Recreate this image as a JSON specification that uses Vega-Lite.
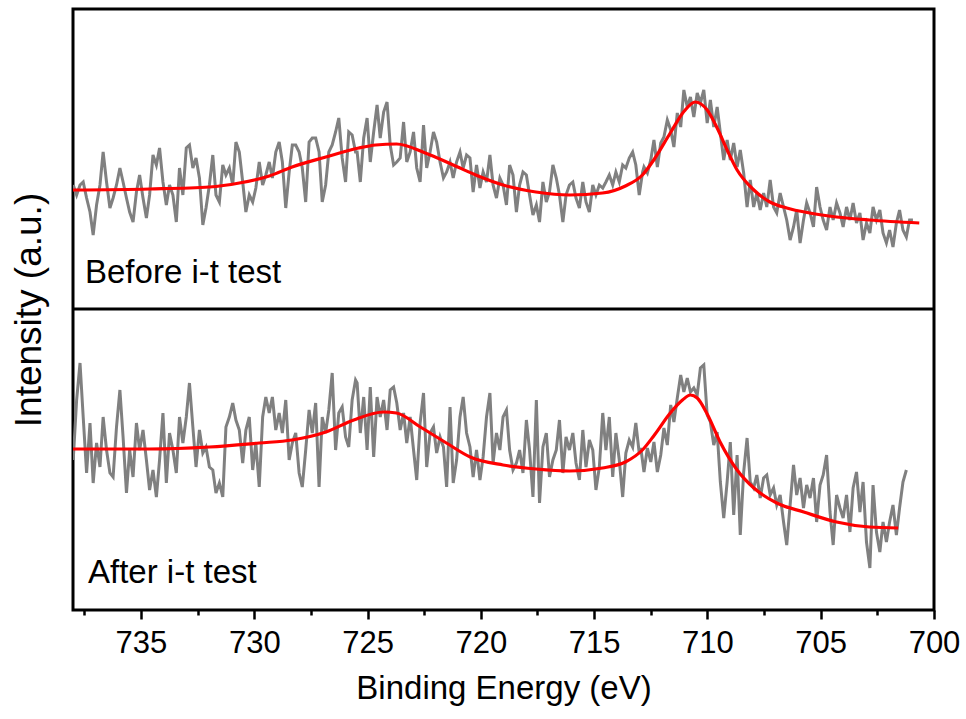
{
  "$schema": "https://vega.github.io/schema/vega-lite/v6.json",
  "width": 861,
  "height": 601,
  "autosize": {"type": "none"},
  "padding": {"left": 73, "top": 9, "right": 32, "bottom": 109},
  "background": "white",
  "config": {
    "view": {"stroke": "black", "strokeWidth": 3},
    "font": "Liberation Sans",
    "axis": {"grid": false, "domain": false, "titleFontWeight": "normal", "titleColor": "black", "labelColor": "black", "tickColor": "black"}
  },
  "datasets": {
    "rawBefore": [
      {"e":737.99,"v":425},{"e":737.84,"v":415},{"e":737.69,"v":425},{"e":737.55,"v":428},{"e":737.40,"v":412},{"e":737.25,"v":398},{"e":737.11,"v":375},{"e":736.96,"v":405},{"e":736.81,"v":425},{"e":736.67,"v":458},{"e":736.52,"v":428},{"e":736.37,"v":402},{"e":736.23,"v":412},{"e":736.08,"v":425},{"e":735.93,"v":442},{"e":735.79,"v":428},{"e":735.64,"v":412},{"e":735.50,"v":398},{"e":735.35,"v":388},{"e":735.20,"v":418},{"e":735.06,"v":435},{"e":734.91,"v":412},{"e":734.76,"v":392},{"e":734.62,"v":415},{"e":734.47,"v":455},{"e":734.32,"v":445},{"e":734.18,"v":462},{"e":734.03,"v":428},{"e":733.88,"v":405},{"e":733.74,"v":425},{"e":733.59,"v":415},{"e":733.44,"v":388},{"e":733.30,"v":442},{"e":733.15,"v":415},{"e":733.00,"v":462},{"e":732.86,"v":465},{"e":732.71,"v":442},{"e":732.57,"v":452},{"e":732.42,"v":432},{"e":732.27,"v":385},{"e":732.13,"v":402},{"e":731.98,"v":425},{"e":731.83,"v":455},{"e":731.69,"v":415},{"e":731.54,"v":408},{"e":731.39,"v":445},{"e":731.25,"v":435},{"e":731.10,"v":442},{"e":730.95,"v":425},{"e":730.81,"v":468},{"e":730.66,"v":458},{"e":730.51,"v":428},{"e":730.37,"v":398},{"e":730.22,"v":415},{"e":730.07,"v":408},{"e":729.93,"v":422},{"e":729.78,"v":448},{"e":729.63,"v":425},{"e":729.49,"v":435},{"e":729.34,"v":448},{"e":729.20,"v":432},{"e":729.05,"v":458},{"e":728.90,"v":468},{"e":728.76,"v":448},{"e":728.61,"v":402},{"e":728.46,"v":438},{"e":728.32,"v":465},{"e":728.17,"v":465},{"e":728.02,"v":458},{"e":727.88,"v":442},{"e":727.73,"v":408},{"e":727.58,"v":468},{"e":727.44,"v":472},{"e":727.29,"v":472},{"e":727.14,"v":458},{"e":727.00,"v":408},{"e":726.85,"v":425},{"e":726.71,"v":458},{"e":726.56,"v":465},{"e":726.41,"v":478},{"e":726.27,"v":492},{"e":726.12,"v":452},{"e":725.97,"v":428},{"e":725.83,"v":478},{"e":725.68,"v":475},{"e":725.53,"v":458},
      {"e":725.46,"v":458},{"e":725.32,"v":428},{"e":725.17,"v":472},{"e":725.02,"v":492},{"e":724.88,"v":448},{"e":724.73,"v":478},{"e":724.58,"v":505},{"e":724.44,"v":472},{"e":724.29,"v":498},{"e":724.14,"v":508},{"e":724.00,"v":465},{"e":723.85,"v":445},{"e":723.71,"v":448},{"e":723.56,"v":452},{"e":723.41,"v":488},{"e":723.27,"v":448},{"e":723.12,"v":458},{"e":722.97,"v":478},{"e":722.83,"v":442},{"e":722.68,"v":428},{"e":722.53,"v":485},{"e":722.39,"v":442},{"e":722.24,"v":458},{"e":722.09,"v":478},{"e":721.95,"v":468},{"e":721.80,"v":448},{"e":721.65,"v":432},{"e":721.51,"v":438},{"e":721.36,"v":448},{"e":721.22,"v":432},{"e":721.07,"v":448},{"e":720.92,"v":458},{"e":720.78,"v":442},{"e":720.63,"v":455},{"e":720.48,"v":452},{"e":720.34,"v":418},{"e":720.19,"v":445},{"e":720.04,"v":422},{"e":719.90,"v":438},{"e":719.75,"v":428},{"e":719.60,"v":455},{"e":719.46,"v":425},{"e":719.31,"v":412},{"e":719.16,"v":432},{"e":719.02,"v":425},{"e":718.87,"v":405},{"e":718.73,"v":445},{"e":718.58,"v":435},{"e":718.43,"v":398},{"e":718.29,"v":425},{"e":718.14,"v":438},{"e":717.99,"v":435},{"e":717.85,"v":415},{"e":717.70,"v":395},{"e":717.55,"v":405},{"e":717.41,"v":388},{"e":717.26,"v":428},{"e":717.11,"v":408},{"e":716.97,"v":418},{"e":716.82,"v":445},{"e":716.67,"v":432},{"e":716.53,"v":415},{"e":716.38,"v":388},{"e":716.24,"v":415},{"e":716.09,"v":425},{"e":715.94,"v":428},{"e":715.80,"v":412},{"e":715.65,"v":402},{"e":715.50,"v":428},{"e":715.36,"v":408},{"e":715.21,"v":398},{"e":715.06,"v":425},{"e":714.92,"v":415},{"e":714.77,"v":425},{"e":714.62,"v":422},{"e":714.48,"v":428},{"e":714.33,"v":435},{"e":714.18,"v":425},{"e":714.04,"v":438},{"e":713.89,"v":428},{"e":713.74,"v":445},{"e":713.60,"v":442},{"e":713.45,"v":452},{"e":713.30,"v":458},{"e":713.16,"v":445},{"e":713.01,"v":415},{"e":712.86,"v":438},
      {"e":712.80,"v":443},{"e":712.65,"v":437},{"e":712.50,"v":450},{"e":712.36,"v":470},{"e":712.21,"v":443},{"e":712.06,"v":467},{"e":711.92,"v":473},{"e":711.77,"v":490},{"e":711.62,"v":480},{"e":711.48,"v":463},{"e":711.33,"v":497},{"e":711.18,"v":483},{"e":711.04,"v":520},{"e":710.89,"v":503},{"e":710.75,"v":513},{"e":710.60,"v":493},{"e":710.45,"v":517},{"e":710.31,"v":507},{"e":710.16,"v":520},{"e":710.01,"v":487},{"e":709.87,"v":510},{"e":709.72,"v":483},{"e":709.57,"v":503},{"e":709.43,"v":477},{"e":709.28,"v":450},{"e":709.13,"v":470},{"e":708.99,"v":450},{"e":708.84,"v":467},{"e":708.69,"v":443},{"e":708.55,"v":460},{"e":708.40,"v":437},{"e":708.25,"v":403},{"e":708.11,"v":430},{"e":707.96,"v":403},{"e":707.82,"v":417},{"e":707.67,"v":400},{"e":707.52,"v":417},{"e":707.38,"v":403},{"e":707.23,"v":430},{"e":707.08,"v":403},{"e":706.94,"v":397},{"e":706.79,"v":417},{"e":706.64,"v":403},{"e":706.50,"v":390},{"e":706.35,"v":370},{"e":706.20,"v":383},{"e":706.06,"v":400},{"e":705.91,"v":367},{"e":705.76,"v":390},{"e":705.62,"v":407},{"e":705.47,"v":397},{"e":705.32,"v":383},{"e":705.18,"v":423},{"e":705.03,"v":403},{"e":704.89,"v":390},{"e":704.74,"v":380},{"e":704.59,"v":403},{"e":704.45,"v":390},{"e":704.30,"v":407},{"e":704.15,"v":397},{"e":704.01,"v":383},{"e":703.86,"v":403},{"e":703.71,"v":390},{"e":703.57,"v":407},{"e":703.42,"v":387},{"e":703.27,"v":397},{"e":703.13,"v":370},{"e":702.98,"v":387},{"e":702.83,"v":377},{"e":702.69,"v":403},{"e":702.54,"v":390},{"e":702.39,"v":400},{"e":702.25,"v":377},{"e":702.10,"v":367},{"e":701.96,"v":380},{"e":701.81,"v":363},{"e":701.66,"v":387},{"e":701.52,"v":400},{"e":701.37,"v":380},{"e":701.22,"v":373},{"e":701.08,"v":390},{"e":700.93,"v":390}
    ],
    "rawAfter": [
      {"e":737.99,"v":150},{"e":737.84,"v":210},{"e":737.69,"v":247},{"e":737.55,"v":193},{"e":737.40,"v":137},{"e":737.25,"v":187},{"e":737.11,"v":127},{"e":736.96,"v":167},{"e":736.81,"v":143},{"e":736.67,"v":193},{"e":736.52,"v":160},{"e":736.37,"v":137},{"e":736.23,"v":133},{"e":736.08,"v":183},{"e":735.93,"v":220},{"e":735.79,"v":173},{"e":735.64,"v":117},{"e":735.50,"v":160},{"e":735.35,"v":133},{"e":735.20,"v":187},{"e":735.06,"v":160},{"e":734.91,"v":180},{"e":734.76,"v":150},{"e":734.62,"v":120},{"e":734.47,"v":140},{"e":734.32,"v":113},{"e":734.18,"v":150},{"e":734.03,"v":197},{"e":733.88,"v":127},{"e":733.74,"v":177},{"e":733.59,"v":160},{"e":733.44,"v":137},{"e":733.30,"v":193},{"e":733.15,"v":167},{"e":733.00,"v":193},{"e":732.86,"v":227},{"e":732.71,"v":183},{"e":732.57,"v":143},{"e":732.42,"v":180},{"e":732.27,"v":157},{"e":732.13,"v":163},{"e":731.98,"v":143},{"e":731.83,"v":140},{"e":731.69,"v":117},{"e":731.54,"v":127},{"e":731.39,"v":113},{"e":731.25,"v":183},{"e":731.10,"v":193},{"e":730.95,"v":207},{"e":730.81,"v":190},{"e":730.66,"v":180},{"e":730.51,"v":147},{"e":730.37,"v":180},{"e":730.22,"v":193},{"e":730.07,"v":140},{"e":729.93,"v":167},{"e":729.78,"v":123},{"e":729.63,"v":193},{"e":729.49,"v":213},{"e":729.34,"v":197},{"e":729.20,"v":213},{"e":729.05,"v":180},{"e":728.90,"v":197},{"e":728.76,"v":177},{"e":728.61,"v":210},{"e":728.46,"v":150},{"e":728.32,"v":167},{"e":728.17,"v":177},{"e":728.02,"v":137},{"e":727.88,"v":123},{"e":727.73,"v":160},{"e":727.58,"v":200},{"e":727.44,"v":177},{"e":727.29,"v":207},{"e":727.14,"v":123},{"e":727.00,"v":193},{"e":726.85,"v":177},{"e":726.71,"v":200},{"e":726.56,"v":237},{"e":726.41,"v":160},{"e":726.27,"v":197},{"e":726.12,"v":203},{"e":725.97,"v":173},{"e":725.83,"v":163},{"e":725.68,"v":210},{"e":725.53,"v":230},
      {"e":725.46,"v":227},{"e":725.32,"v":177},{"e":725.17,"v":213},{"e":725.02,"v":160},{"e":724.88,"v":223},{"e":724.73,"v":153},{"e":724.58,"v":213},{"e":724.44,"v":193},{"e":724.29,"v":210},{"e":724.14,"v":180},{"e":724.00,"v":220},{"e":723.85,"v":223},{"e":723.71,"v":207},{"e":723.56,"v":180},{"e":723.41,"v":197},{"e":723.27,"v":167},{"e":723.12,"v":193},{"e":722.97,"v":160},{"e":722.83,"v":130},{"e":722.68,"v":187},{"e":722.53,"v":217},{"e":722.39,"v":143},{"e":722.24,"v":177},{"e":722.09,"v":183},{"e":721.95,"v":157},{"e":721.80,"v":173},{"e":721.65,"v":163},{"e":721.51,"v":123},{"e":721.36,"v":203},{"e":721.22,"v":127},{"e":721.07,"v":150},{"e":720.92,"v":193},{"e":720.78,"v":213},{"e":720.63,"v":177},{"e":720.48,"v":163},{"e":720.34,"v":133},{"e":720.19,"v":160},{"e":720.04,"v":130},{"e":719.90,"v":153},{"e":719.75,"v":193},{"e":719.60,"v":217},{"e":719.46,"v":147},{"e":719.31,"v":177},{"e":719.16,"v":160},{"e":719.02,"v":193},{"e":718.87,"v":200},{"e":718.73,"v":160},{"e":718.58,"v":140},{"e":718.43,"v":147},{"e":718.29,"v":160},{"e":718.14,"v":137},{"e":717.99,"v":190},{"e":717.85,"v":160},{"e":717.70,"v":113},{"e":717.55,"v":210},{"e":717.41,"v":107},{"e":717.26,"v":163},{"e":717.11,"v":177},{"e":716.97,"v":133},{"e":716.82,"v":150},{"e":716.67,"v":160},{"e":716.53,"v":190},{"e":716.38,"v":137},{"e":716.24,"v":173},{"e":716.09,"v":160},{"e":715.94,"v":177},{"e":715.80,"v":147},{"e":715.65,"v":130},{"e":715.50,"v":180},{"e":715.36,"v":143},{"e":715.21,"v":170},{"e":715.06,"v":160},{"e":714.92,"v":120},{"e":714.77,"v":143},{"e":714.62,"v":197},{"e":714.48,"v":160},{"e":714.33,"v":193},{"e":714.18,"v":133},{"e":714.04,"v":177},{"e":713.89,"v":150},{"e":713.74,"v":113},{"e":713.60,"v":157},{"e":713.45,"v":170},{"e":713.30,"v":163},{"e":713.16,"v":187},{"e":713.01,"v":157},
      {"e":712.94,"v":162},{"e":712.80,"v":138},{"e":712.65,"v":162},{"e":712.50,"v":148},{"e":712.36,"v":168},{"e":712.21,"v":138},{"e":712.06,"v":155},{"e":711.92,"v":182},{"e":711.77,"v":165},{"e":711.62,"v":205},{"e":711.48,"v":188},{"e":711.33,"v":212},{"e":711.18,"v":235},{"e":711.04,"v":218},{"e":710.89,"v":232},{"e":710.75,"v":218},{"e":710.60,"v":222},{"e":710.45,"v":215},{"e":710.31,"v":242},{"e":710.16,"v":245},{"e":710.01,"v":195},{"e":709.87,"v":188},{"e":709.72,"v":165},{"e":709.57,"v":178},{"e":709.43,"v":128},{"e":709.28,"v":92},{"e":709.13,"v":128},{"e":708.99,"v":168},{"e":708.84,"v":95},{"e":708.69,"v":155},{"e":708.55,"v":75},{"e":708.40,"v":138},{"e":708.25,"v":172},{"e":708.11,"v":128},{"e":707.96,"v":122},{"e":707.82,"v":135},{"e":707.67,"v":112},{"e":707.52,"v":132},{"e":707.38,"v":135},{"e":707.23,"v":115},{"e":707.08,"v":122},{"e":706.94,"v":105},{"e":706.79,"v":115},{"e":706.64,"v":88},{"e":706.50,"v":65},{"e":706.35,"v":105},{"e":706.20,"v":145},{"e":706.06,"v":115},{"e":705.91,"v":132},{"e":705.76,"v":102},{"e":705.62,"v":125},{"e":705.47,"v":112},{"e":705.32,"v":132},{"e":705.18,"v":88},{"e":705.03,"v":125},{"e":704.89,"v":135},{"e":704.74,"v":155},{"e":704.59,"v":98},{"e":704.45,"v":65},{"e":704.30,"v":115},{"e":704.15,"v":102},{"e":704.01,"v":92},{"e":703.86,"v":115},{"e":703.71,"v":78},{"e":703.57,"v":122},{"e":703.42,"v":138},{"e":703.27,"v":98},{"e":703.13,"v":128},{"e":702.98,"v":68},{"e":702.83,"v":42},{"e":702.69,"v":125},{"e":702.54,"v":78},{"e":702.39,"v":58},{"e":702.25,"v":88},{"e":702.10,"v":68},{"e":701.96,"v":88},{"e":701.81,"v":105},{"e":701.66,"v":75},{"e":701.52,"v":102},{"e":701.37,"v":128},{"e":701.22,"v":140}
    ],
    "fitBefore": [
      {"e":738.00,"v":420},{"e":734.62,"v":421},{"e":731.98,"v":423},{"e":730.66,"v":427},{"e":729.34,"v":434},{"e":728.33,"v":443},{"e":726.84,"v":453},{"e":725.39,"v":462},{"e":724.64,"v":465},{"e":723.72,"v":466},{"e":722.45,"v":457},{"e":721.22,"v":445},{"e":720.12,"v":434},{"e":719.02,"v":425},{"e":717.57,"v":418},{"e":716.08,"v":415},{"e":714.63,"v":417},{"e":713.62,"v":424},{"e":712.87,"v":435},{"e":712.34,"v":451},{"e":711.64,"v":477},{"e":711.02,"v":499},{"e":710.54,"v":508},{"e":710.01,"v":500},{"e":709.57,"v":482},{"e":709.13,"v":460},{"e":708.69,"v":440},{"e":707.95,"v":420},{"e":707.24,"v":408},{"e":706.50,"v":402},{"e":705.49,"v":397},{"e":704.30,"v":393},{"e":702.85,"v":390},{"e":700.65,"v":387}
    ],
    "fitAfter": [
      {"e":738.00,"v":161},{"e":734.62,"v":161},{"e":731.98,"v":163},{"e":729.78,"v":167},{"e":728.33,"v":170},{"e":726.84,"v":178},{"e":725.61,"v":190},{"e":724.29,"v":198},{"e":723.72,"v":197},{"e":722.67,"v":183},{"e":721.52,"v":167},{"e":720.47,"v":153},{"e":719.02,"v":145},{"e":717.57,"v":141},{"e":716.08,"v":139},{"e":714.63,"v":142},{"e":713.62,"v":148},{"e":712.87,"v":160},{"e":712.34,"v":175},{"e":711.64,"v":197},{"e":711.1,"v":210},{"e":710.75,"v":215},{"e":710.45,"v":212},{"e":710.01,"v":196},{"e":709.44,"v":168},{"e":708.69,"v":140},{"e":707.95,"v":122},{"e":706.94,"v":107},{"e":705.75,"v":98},{"e":704.30,"v":88},{"e":702.85,"v":83},{"e":701.58,"v":82}
    ],
    "divider": [{"v": 301}],
    "labels": [
      {"e": 737.47, "v": 327, "label": "Before i-t test"},
      {"e": 737.34, "v": 27, "label": "After i-t test"}
    ]
  },
  "encoding": {
    "x": {
      "field": "e", "type": "quantitative",
      "scale": {"domain": [700, 738], "reverse": true, "nice": false, "zero": false},
      "axis": {
        "title": "Binding Energy (eV)",
        "titleFontSize": 33, "titlePadding": 14,
        "labelFontSize": 31, "labelPadding": 9,
        "values": [737.5, 735, 732.5, 730, 727.5, 725, 722.5, 720, 717.5, 715, 712.5, 710, 707.5, 705, 702.5, 700],
        "labelExpr": "datum.value % 5 === 0 ? datum.label : ''",
        "tickWidth": 2.5,
        "tickSize": {"condition": {"test": "datum.value % 5 === 0", "value": 9}, "value": 5},
        "labelFlush": false
      }
    },
    "y": {
      "field": "v", "type": "quantitative",
      "scale": {"domain": [0, 601], "nice": false, "zero": false},
      "axis": {"title": "Intensity (a.u.)", "titleFontSize": 37, "labels": false, "ticks": false, "titlePadding": 25}
    }
  },
  "layer": [
    {"data": {"name": "rawBefore"}, "mark": {"type": "line", "color": "#808080", "strokeWidth": 3, "clip": true}},
    {"data": {"name": "rawAfter"}, "mark": {"type": "line", "color": "#808080", "strokeWidth": 3, "clip": true}},
    {"data": {"name": "fitBefore"}, "mark": {"type": "line", "color": "#ff0000", "strokeWidth": 3.2, "interpolate": "monotone", "clip": true}},
    {"data": {"name": "fitAfter"}, "mark": {"type": "line", "color": "#ff0000", "strokeWidth": 3.2, "interpolate": "monotone", "clip": true}},
    {"data": {"name": "divider"}, "mark": {"type": "rule", "color": "black", "strokeWidth": 3}, "encoding": {"x": null, "y": {"field": "v", "type": "quantitative"}}},
    {"data": {"name": "labels"}, "mark": {"type": "text", "align": "left", "baseline": "alphabetic", "fontSize": 33, "color": "black"}, "encoding": {"text": {"field": "label"}}}
  ]
}
